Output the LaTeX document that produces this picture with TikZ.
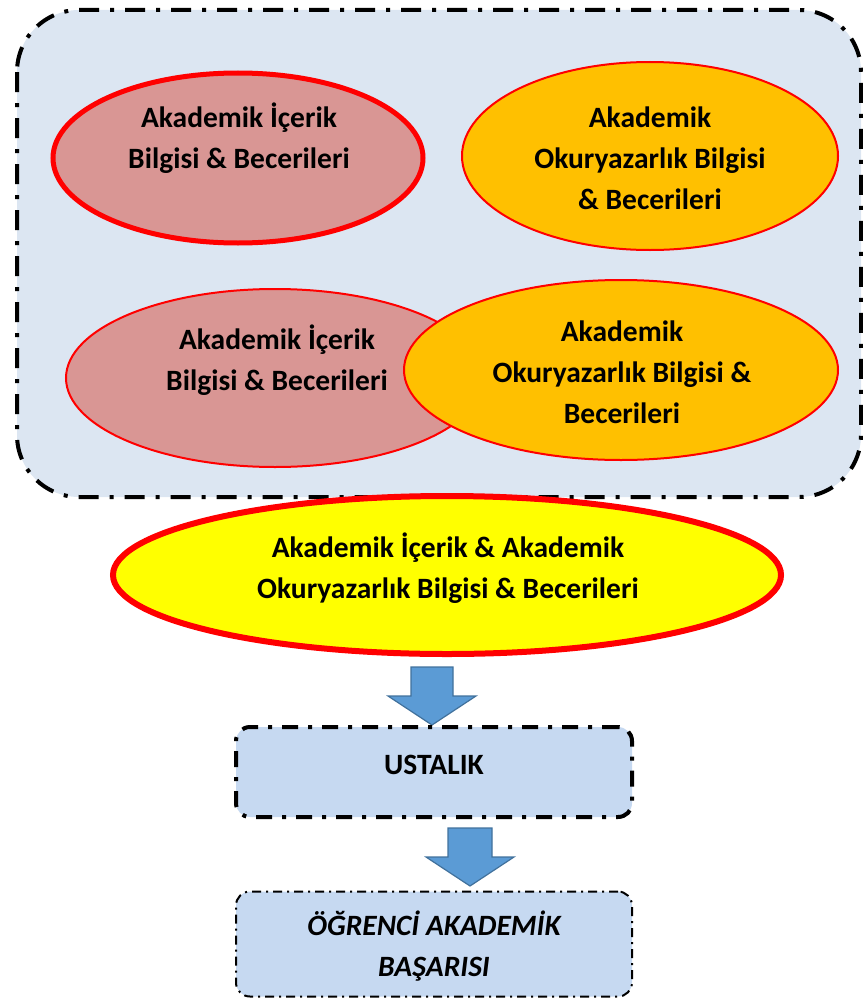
\documentclass[tikz,border=0pt]{standalone}
\usepackage{fontspec}
\setmainfont{Carlito}
\usetikzlibrary{shapes.geometric}
\definecolor{panelblue}{HTML}{DCE6F2}
\definecolor{boxblue}{HTML}{C6D9F1}
\definecolor{rosefill}{HTML}{D99694}
\definecolor{amber}{HTML}{FFC000}
\definecolor{lemon}{HTML}{FFFF00}
\definecolor{arrowfill}{HTML}{5B9BD5}
\definecolor{arrowline}{HTML}{41719C}
\tikzset{
  txt/.style={align=center, font=\fontsize{29.5}{41}\selectfont\bfseries, inner sep=0pt},
  oval/.style={ellipse, inner sep=0pt, draw=red},
  panel/.style={draw=black, fill=panelblue, line width=4pt, rounded corners=62pt,
    dash pattern=on 20pt off 11pt on 4pt off 11pt},
  stagebox/.style={draw=black, fill=boxblue, rounded corners=14pt},
  blockarrow/.style={fill=arrowfill, draw=arrowline, line width=1.2pt, line join=miter}
}
\begin{document}
\begin{tikzpicture}[x=1pt, y=-1pt]
\useasboundingbox (0,0) rectangle (862,998);

% outer panel holding the four ovals
\draw[panel] (17,10) rectangle (861,497);

% upper row
\node[oval, fill=rosefill, line width=5pt, minimum width=370pt, minimum height=170pt] (c1) at (238,158) {};
\node[txt] (t1) at (239,138) {Akademik İçerik\\Bilgisi \& Becerileri};
\node[oval, fill=amber, line width=2pt, minimum width=376pt, minimum height=188pt] (c2) at (650,156) {};
\node[txt] (t2) at (650,158) {Akademik\\Okuryazarlık Bilgisi\\\& Becerileri};

% lower row, overlapping pair
\node[oval, fill=rosefill, line width=2pt, minimum width=418pt, minimum height=178pt] (c3) at (275,378) {};
\node[txt] (t3) at (277,360) {Akademik İçerik\\Bilgisi \& Becerileri};
\node[oval, fill=amber, line width=2pt, minimum width=434pt, minimum height=180pt] (c4) at (621,370) {};
\node[txt] (t4) at (622,372) {Akademik\\Okuryazarlık Bilgisi \&\\Becerileri};

% combined oval
\node[oval, fill=lemon, line width=6pt, minimum width=668pt, minimum height=158pt] (c5) at (447,575) {};
\node[txt] (t5) at (448,568) {Akademik İçerik \& Akademik\\Okuryazarlık Bilgisi \& Becerileri};

% first block arrow
\coordinate (a1) at (432,667);
\draw[blockarrow] (a1) ++(-21,0) -- ++(0,29) -- ++(-23,0) -- (432,725) -- (476,696) -- ++(-23,0) -- ++(0,-29) -- cycle;

% mastery stage
\node[stagebox, line width=4pt, dash pattern=on 16pt off 10pt on 4pt off 10pt,
  minimum width=396pt, minimum height=90pt] (b1) at (434,772) {};
\node[txt] (t6) at (434,765) {USTALIK};

% second block arrow
\coordinate (a2) at (470,828);
\draw[blockarrow] (a2) ++(-22,0) -- ++(0,29) -- ++(-22,0) -- (470,886) -- (514,857) -- ++(-22,0) -- ++(0,-29) -- cycle;

% final stage
\node[stagebox, line width=2pt, dash pattern=on 9pt off 5pt on 2pt off 5pt,
  minimum width=396pt, minimum height=105pt] (b2) at (434,944) {};
\node[txt, font=\fontsize{29.5}{41}\selectfont\bfseries\itshape] (t7) at (434,946) {ÖĞRENCİ AKADEMİK\\BAŞARISI};
\end{tikzpicture}
\end{document}
